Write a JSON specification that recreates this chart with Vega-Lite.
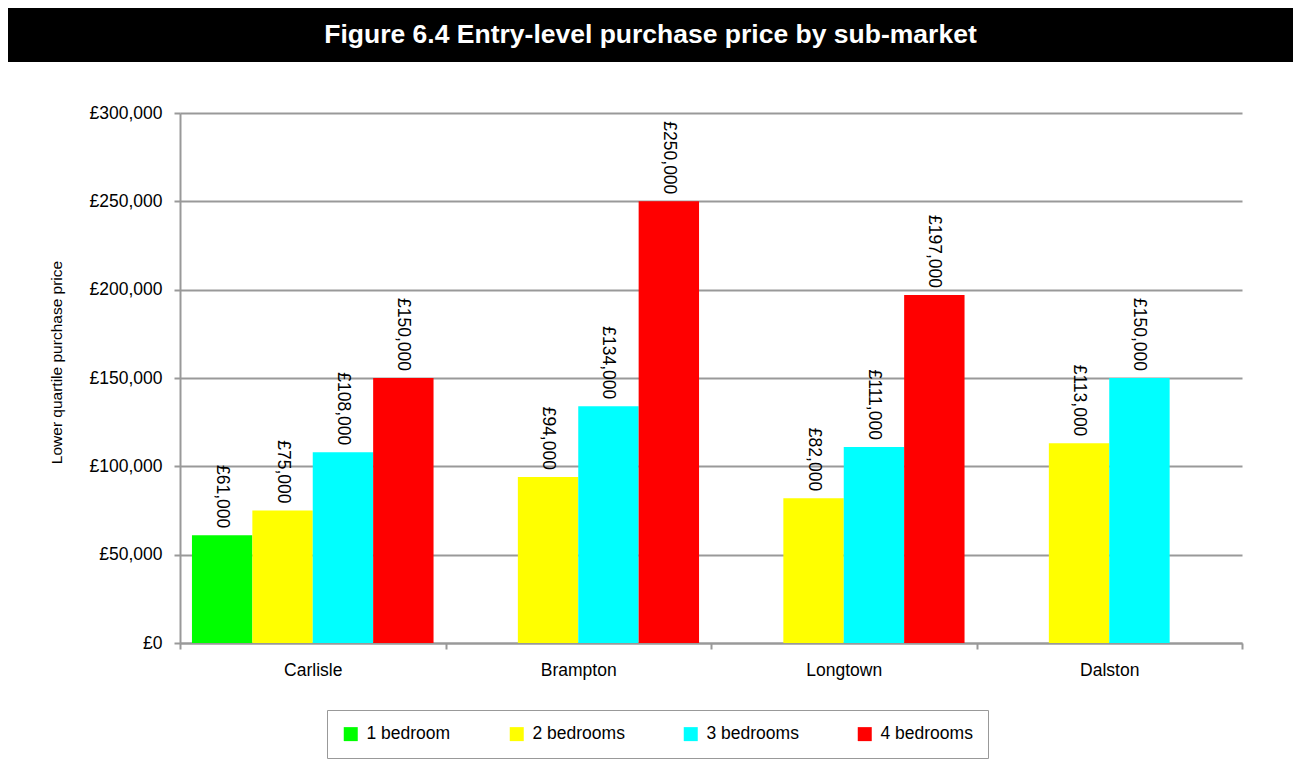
{
  "$schema": "https://vega.github.io/schema/vega-lite/v6.json",
  "background": "white",
  "padding": {"left": 8, "top": 8, "right": 2, "bottom": 4},
  "spacing": 42,
  "config": {
    "font": "Liberation Sans",
    "view": {"stroke": null},
    "locale": {"number": {"decimal": ".", "thousands": ",", "grouping": [3], "currency": ["£", ""]}}
  },
  "vconcat": [
    {
      "width": 1285,
      "height": 54,
      "view": {"fill": "black", "stroke": null},
      "data": {"values": [{"t": "Figure 6.4 Entry-level purchase price by sub-market"}]},
      "mark": {"type": "text", "color": "white", "fontSize": 26.5, "fontWeight": "bold", "font": "Liberation Sans", "baseline": "middle", "align": "center"},
      "encoding": {"text": {"field": "t", "type": "nominal"}}
    },
    {
      "width": 1234,
      "height": 530,
      "data": {"values": [
        {"region": "Carlisle", "bedrooms": "1 bedroom", "price": 61000},
        {"region": "Carlisle", "bedrooms": "2 bedrooms", "price": 75000},
        {"region": "Carlisle", "bedrooms": "3 bedrooms", "price": 108000},
        {"region": "Carlisle", "bedrooms": "4 bedrooms", "price": 150000},
        {"region": "Brampton", "bedrooms": "1 bedroom", "price": null},
        {"region": "Brampton", "bedrooms": "2 bedrooms", "price": 94000},
        {"region": "Brampton", "bedrooms": "3 bedrooms", "price": 134000},
        {"region": "Brampton", "bedrooms": "4 bedrooms", "price": 250000},
        {"region": "Longtown", "bedrooms": "1 bedroom", "price": null},
        {"region": "Longtown", "bedrooms": "2 bedrooms", "price": 82000},
        {"region": "Longtown", "bedrooms": "3 bedrooms", "price": 111000},
        {"region": "Longtown", "bedrooms": "4 bedrooms", "price": 197000},
        {"region": "Dalston", "bedrooms": "1 bedroom", "price": null},
        {"region": "Dalston", "bedrooms": "2 bedrooms", "price": 113000},
        {"region": "Dalston", "bedrooms": "3 bedrooms", "price": 150000},
        {"region": "Dalston", "bedrooms": "4 bedrooms", "price": null}
      ]},
      "encoding": {
        "x": {
          "field": "region", "type": "nominal",
          "sort": ["Carlisle", "Brampton", "Longtown", "Dalston"],
          "scale": {"range": [172, 1234], "paddingInner": 0, "paddingOuter": 0},
          "axis": {
            "title": null, "labelAngle": 0, "labelFontSize": 17.5, "labelColor": "black",
            "tickBand": "extent", "tickSize": 6, "tickColor": "#999999", "tickWidth": 2,
            "domainColor": "#999999", "domainWidth": 2, "labelPadding": 12, "grid": false
          }
        },
        "xOffset": {
          "field": "bedrooms", "type": "nominal",
          "sort": ["1 bedroom", "2 bedrooms", "3 bedrooms", "4 bedrooms"],
          "scale": {"domain": ["1 bedroom", "2 bedrooms", "3 bedrooms", "4 bedrooms"], "paddingInner": 0, "paddingOuter": 0.198}
        },
        "y": {
          "field": "price", "type": "quantitative",
          "scale": {"domain": [0, 300000], "nice": false},
          "axis": {
            "values": [0, 50000, 100000, 150000, 200000, 250000, 300000],
            "format": "$,.0f",
            "offset": -172,
            "labelFontSize": 17.5, "labelColor": "black", "labelPadding": 12,
            "title": "Lower quartile purchase price", "titleFontSize": 15.5, "titleFontWeight": "normal",
            "titleX": -116, "titleY": 249, "titleAngle": -90, "titleBaseline": "bottom", "titleAlign": "center",
            "titleColor": "black",
            "tickSize": 6, "tickColor": "#999999", "tickWidth": 2,
            "domainColor": "#999999", "domainWidth": 2,
            "grid": true, "gridColor": "#999999", "gridWidth": 2
          }
        }
      },
      "layer": [
        {
          "mark": {"type": "bar"},
          "encoding": {
            "color": {
              "field": "bedrooms", "type": "nominal",
              "scale": {"domain": ["1 bedroom", "2 bedrooms", "3 bedrooms", "4 bedrooms"], "range": ["#00ff00", "#ffff00", "#00ffff", "#ff0000"]},
              "legend": {
                "orient": "none", "legendX": 319, "legendY": 702, "direction": "horizontal",
                "title": null, "symbolType": "square", "symbolSize": 196, "symbolStrokeWidth": 0,
                "labelFontSize": 17.5, "labelColor": "black", "labelOffset": 7,
                "columnPadding": 57, "padding": 15,
                "strokeColor": "#999999", "fillColor": "white"
              }
            }
          }
        },
        {
          "transform": [{"filter": "datum.price != null"}],
          "mark": {"type": "text", "angle": 90, "align": "right", "baseline": "middle", "dx": -7, "fontSize": 17.5, "color": "black"},
          "encoding": {"text": {"field": "price", "type": "quantitative", "format": "$,.0f"}}
        }
      ]
    }
  ]
}
